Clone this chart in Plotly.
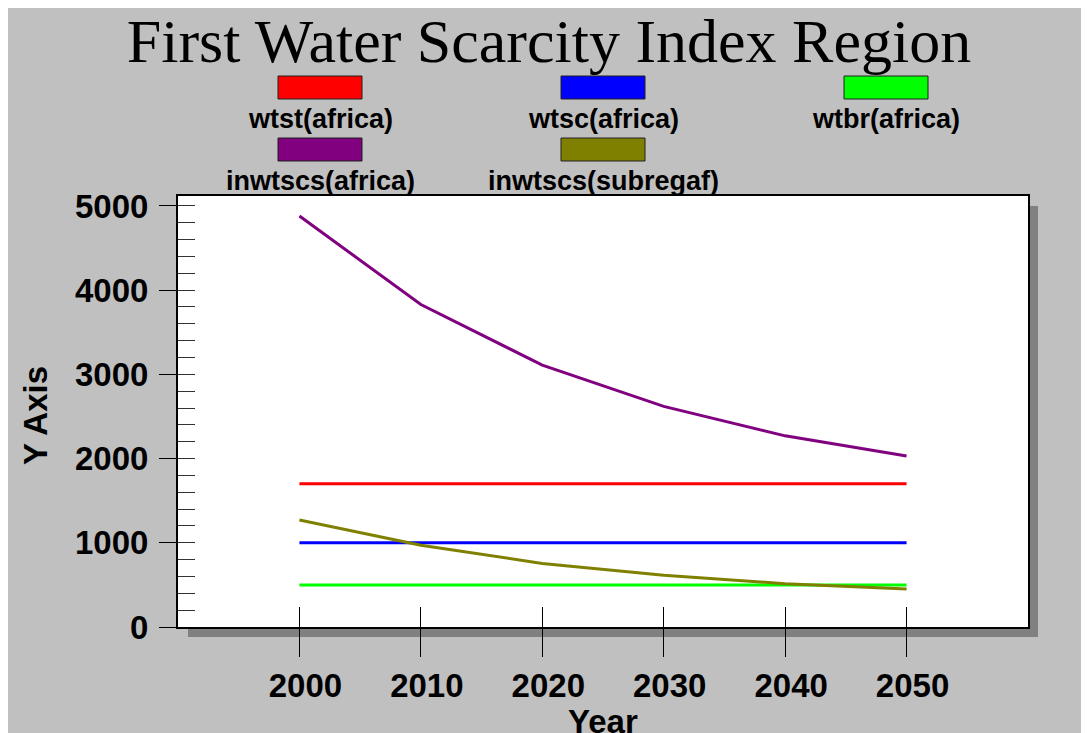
import plotly.graph_objects as go

# data
years = [2000, 2010, 2020, 2030, 2040, 2050]
wtst_africa = [1700, 1700, 1700, 1700, 1700, 1700]
wtsc_africa = [1000, 1000, 1000, 1000, 1000, 1000]
wtbr_africa = [500, 500, 500, 500, 500, 500]
inwtscs_africa = [4880, 3830, 3110, 2620, 2270, 2030]
inwtscs_subregaf = [1270, 970, 755, 615, 515, 450]

names = ["wtst(africa)", "wtsc(africa)", "wtbr(africa)", "inwtscs(africa)", "inwtscs(subregaf)"]
series = [wtst_africa, wtsc_africa, wtbr_africa, inwtscs_africa, inwtscs_subregaf]
colors = ["#ff0000", "#0000ff", "#00ff00", "#800080", "#808000"]

W, H = 1089, 733
L, R, T, B = 170, 1020, 188, 619  # plot box in figure pixels


def px(x):
    return (x - L) / (R - L)


def py(y):
    return (B - y) / (B - T)


fig = go.Figure()
for name, vals, col in zip(names, series, colors):
    fig.add_trace(go.Scatter(x=years, y=vals, name=name, mode="lines",
                             line=dict(color=col, width=3), showlegend=False))

# helper trace so the overlay axes (inner tick marks) get drawn
fig.add_trace(go.Scatter(x=years, y=wtst_africa, xaxis="x2", yaxis="y2", mode="lines",
                         line=dict(width=0), opacity=0, hoverinfo="skip", showlegend=False))

shapes = [
    # drop shadow then white plot box
    dict(type="rect", xref="paper", yref="paper", x0=px(180), x1=px(1030), y0=py(629), y1=py(198),
         fillcolor="#808080", line=dict(width=0), layer="below"),
    dict(type="rect", xref="paper", yref="paper", x0=0, x1=1, y0=0, y1=1,
         fillcolor="white", line=dict(width=0), layer="below"),
]

annotations = []
# custom legend: swatch above label
legend_pos = [(312, 68), (595, 68), (878, 68), (312, 130), (595, 130)]
for name, col, (cx, top) in zip(names, colors, legend_pos):
    shapes.append(dict(type="rect", xref="paper", yref="paper",
                       x0=px(cx - 42), x1=px(cx + 42), y0=py(top + 23), y1=py(top),
                       fillcolor=col, line=dict(color="#202020", width=1)))
    annotations.append(dict(text="<b>%s</b>" % name, xref="paper", yref="paper",
                            x=px(cx), y=py(top + 43), xanchor="center", yanchor="middle",
                            showarrow=False, font=dict(family="Liberation Sans, Arial", size=27, color="black")))

annotations.append(dict(text="<b>Y Axis</b>", xref="paper", yref="paper", x=px(27), y=py(408),
                        xanchor="center", yanchor="middle", textangle=-90, showarrow=False,
                        font=dict(family="Liberation Sans, Arial", size=33, color="black")))
annotations.append(dict(text="<b>Year</b>", xref="paper", yref="paper", x=px(595), y=py(713),
                        xanchor="center", yanchor="middle", showarrow=False,
                        font=dict(family="Liberation Sans, Arial", size=33, color="black")))

xr = [1990, 2060]
yr = [0, 5118]
tickfont = dict(family="Liberation Sans, Arial", size=33, color="black", weight="bold")

fig.update_layout(
    width=W, height=H,
    margin=dict(l=L, r=W - R, t=T, b=H - B, autoexpand=False),
    paper_bgcolor="#c0c0c0",
    plot_bgcolor="rgba(0,0,0,0)",
    title=dict(text="First Water Scarcity Index Region", x=541 / W, xanchor="center",
               y=1 - 32 / H, yanchor="middle",
               font=dict(family="Liberation Serif, Times New Roman", size=62, color="black")),
    xaxis=dict(range=xr, tickvals=years, ticks="outside", ticklen=28, tickcolor="black", tickwidth=1,
               showgrid=False, zeroline=False, showline=True, mirror=True, linecolor="black", linewidth=2,
               tickfont=tickfont, ticklabelstandoff=0, ticklabelshift=6),
    yaxis=dict(range=yr, dtick=1000, tick0=0, ticks="outside", ticklen=17, tickcolor="black", tickwidth=1,
               showgrid=False, zeroline=False, showline=True, mirror=True, linecolor="black", linewidth=2,
               tickfont=tickfont, ticklabelstandoff=4),
    xaxis2=dict(range=xr, tickvals=years, overlaying="x", anchor="y2", side="bottom", ticks="inside",
                ticklen=20, tickcolor="black", tickwidth=1, showticklabels=False, showgrid=False,
                zeroline=False, showline=False),
    yaxis2=dict(range=yr, dtick=200, tick0=0, overlaying="y", anchor="x2", side="left", ticks="inside",
                ticklen=17, tickcolor="#333333", tickwidth=1, showticklabels=False, showgrid=False,
                zeroline=False, showline=False),
    shapes=shapes,
    annotations=annotations,
)

fig.write_html("out.html")
